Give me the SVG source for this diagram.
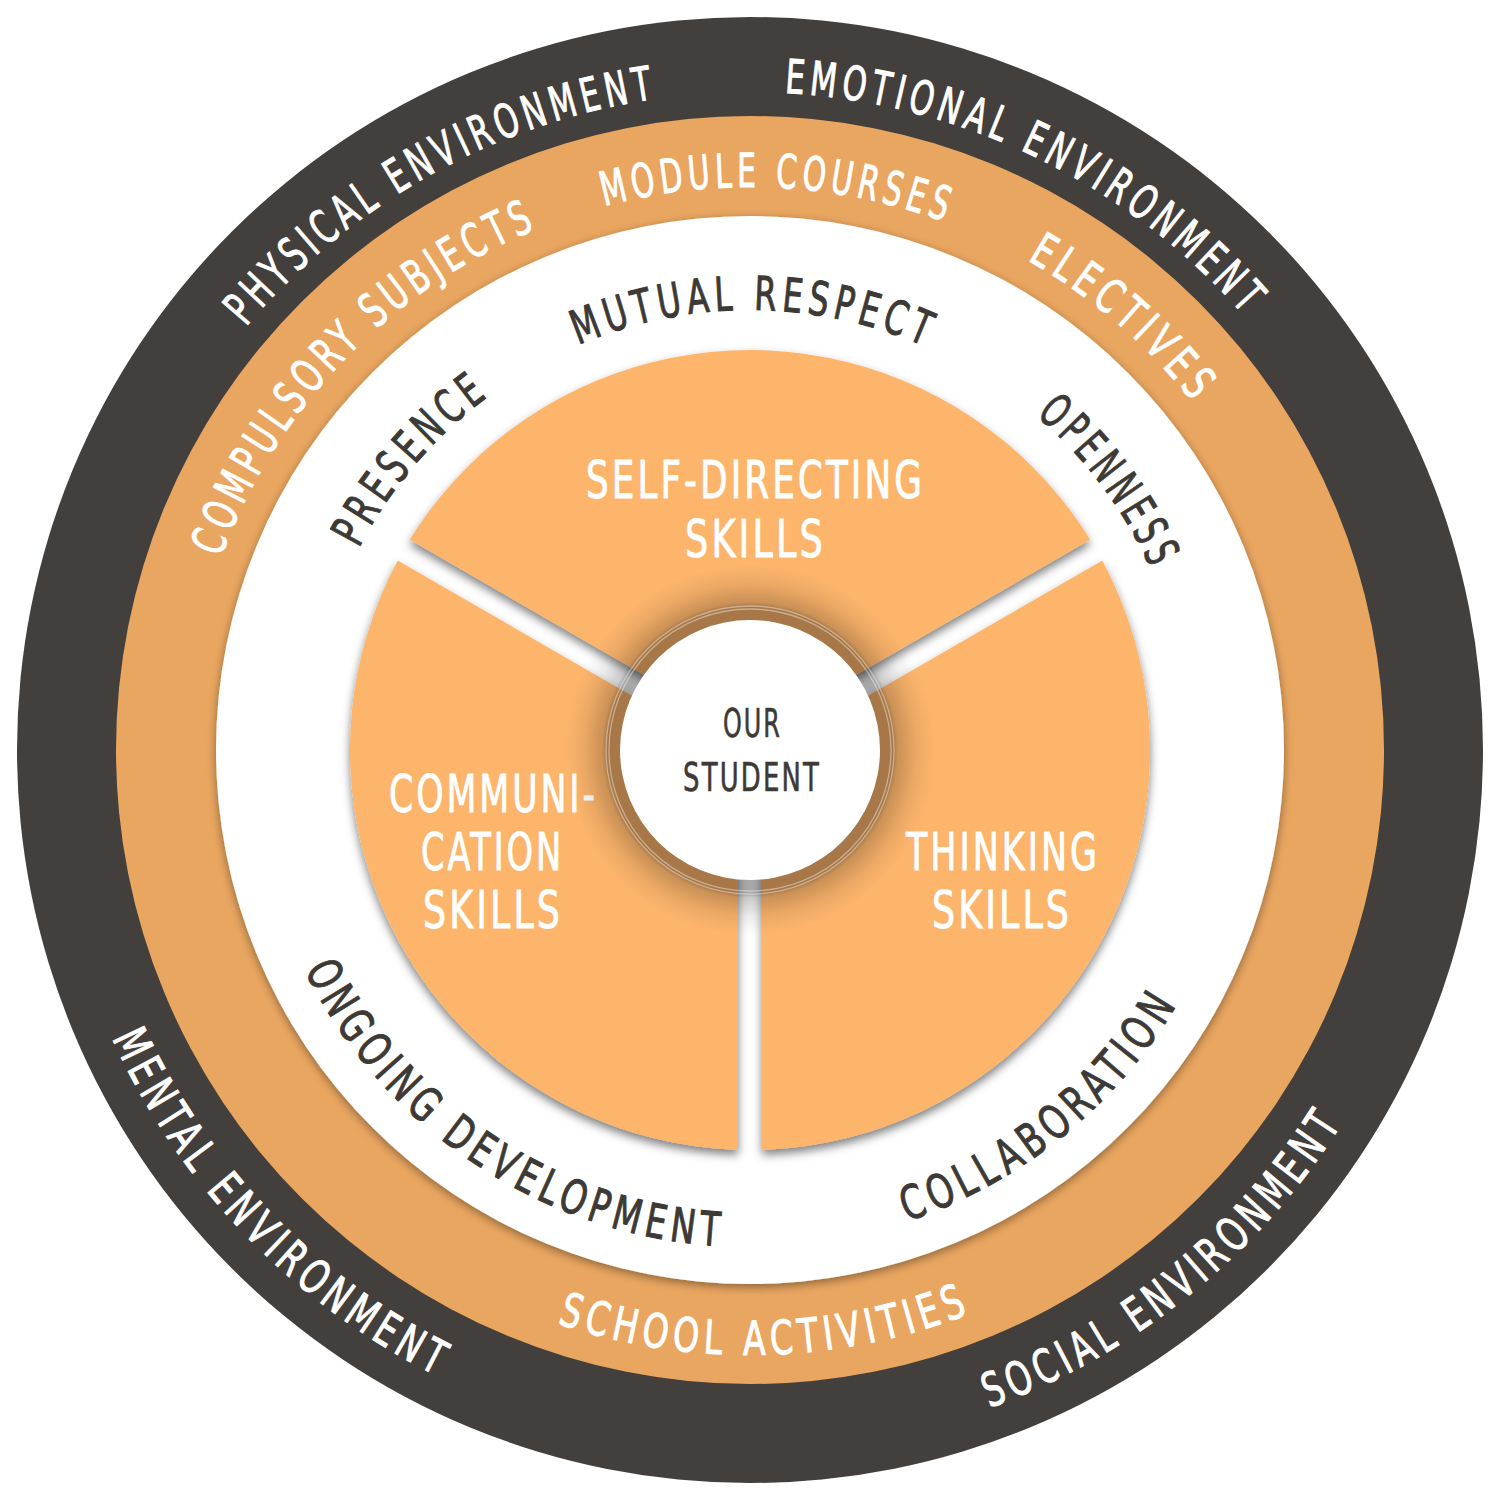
<svg xmlns="http://www.w3.org/2000/svg" width="1500" height="1500" viewBox="0 0 1500 1500">
  <style>
    text { font-family: "Liberation Sans Narrow", "DejaVu Sans Condensed", "Liberation Sans", sans-serif; font-weight: normal; }
    .ring { font-size: 47px; fill: #ffffff; stroke: #ffffff; stroke-width: 1; letter-spacing: 7px; }
    .inner { font-size: 47px; fill: #3d3935; stroke: #3d3935; stroke-width: 1; letter-spacing: 7px; }
    .sector { font-size: 52px; fill: #ffffff; stroke: #ffffff; stroke-width: 0.9; text-anchor: middle; letter-spacing: 4px; }
    .center { font-size: 39px; fill: #3d3935; stroke: #3d3935; stroke-width: 0.6; text-anchor: middle; letter-spacing: 3px; }
  </style>
  <defs>
    <filter id="shadowSoft" x="-10%" y="-10%" width="120%" height="120%">
      <feDropShadow dx="0" dy="3" stdDeviation="5" flood-color="#000000" flood-opacity="0.4"/>
    </filter>
    <filter id="shadowSector" x="-10%" y="-10%" width="120%" height="120%">
      <feDropShadow dx="0" dy="5" stdDeviation="5" flood-color="#000000" flood-opacity="0.5"/>
    </filter>
    <radialGradient id="centerShade" cx="750" cy="750" r="185" gradientUnits="userSpaceOnUse">
      <stop offset="0" stop-color="#000" stop-opacity="0.34"/>
      <stop offset="0.775" stop-color="#000" stop-opacity="0.34"/>
      <stop offset="0.8" stop-color="#000" stop-opacity="0.2"/>
      <stop offset="0.9" stop-color="#000" stop-opacity="0.07"/>
      <stop offset="1" stop-color="#000" stop-opacity="0"/>
    </radialGradient>
    <mask id="barMask" maskUnits="userSpaceOnUse" x="0" y="0" width="1500" height="1500">
      <rect x="0" y="0" width="1500" height="1500" fill="#fff"/>
      <g transform="translate(750 750)" fill="#000">
        <rect x="-12" y="0" width="24" height="440"/>
        <rect x="-12" y="0" width="24" height="440" transform="rotate(120)"/>
        <rect x="-12" y="0" width="24" height="440" transform="rotate(240)"/>
      </g>
    </mask>
    <path id="p1" d="M245.95,327.04 A658,658 0 0 1 658.42,98.40"/>
    <path id="p2" d="M784.44,92.90 A658,658 0 0 1 1246.60,318.31"/>
    <path id="p3" d="M604.28,206.18 A563,563 0 0 1 948.09,223.00"/>
    <path id="p4" d="M220.95,557.44 A563,563 0 0 1 539.10,228.00"/>
    <path id="p5" d="M1027.23,259.99 A563,563 0 0 1 1195.46,405.71"/>
    <path id="p6" d="M578.08,344.98 A440,440 0 0 1 928.97,348.04"/>
    <path id="p7" d="M359.00,548.19 A440,440 0 0 1 491.37,394.03"/>
    <path id="p8" d="M1035.76,415.42 A440,440 0 0 1 1152.58,572.44"/>
    <path id="p9" d="M112.02,1038.06 A700,700 0 0 0 440.94,1378.08"/>
    <path id="p10" d="M989.41,1407.78 A700,700 0 0 0 1344.27,1119.91"/>
    <path id="p11" d="M557.03,1323.40 A605,605 0 0 0 973.70,1312.12"/>
    <path id="p12" d="M304.44,970.21 A497,497 0 0 0 724.86,1246.36"/>
    <path id="p13" d="M906.88,1221.59 A497,497 0 0 0 1179.11,1000.75"/>
  </defs>

  <g id="ring-environment">
    <circle cx="750" cy="750" r="733" fill="#433f3c"/>
    <text class="ring"><textPath href="#p1" textLength="482" lengthAdjust="spacingAndGlyphs">PHYSICAL ENVIRONMENT</textPath></text>
    <text class="ring"><textPath href="#p2" textLength="528" lengthAdjust="spacingAndGlyphs">EMOTIONAL ENVIRONMENT</textPath></text>
    <text class="ring"><textPath href="#p9" textLength="482" lengthAdjust="spacingAndGlyphs">MENTAL ENVIRONMENT</textPath></text>
    <text class="ring"><textPath href="#p10" textLength="465" lengthAdjust="spacingAndGlyphs">SOCIAL ENVIRONMENT</textPath></text>
  </g>

  <g id="ring-curriculum">
    <circle cx="750" cy="750" r="634" fill="#e9a660"/>
    <text class="ring"><textPath href="#p3" textLength="350" lengthAdjust="spacingAndGlyphs">MODULE COURSES</textPath></text>
    <text class="ring"><textPath href="#p4" textLength="472" lengthAdjust="spacingAndGlyphs">COMPULSORY SUBJECTS</textPath></text>
    <text class="ring"><textPath href="#p5" textLength="224" lengthAdjust="spacingAndGlyphs">ELECTIVES</textPath></text>
    <text class="ring"><textPath href="#p11" textLength="425" lengthAdjust="spacingAndGlyphs">SCHOOL ACTIVITIES</textPath></text>
  </g>

  <g id="ring-values">
    <circle cx="750" cy="750" r="534" fill="#ffffff" filter="url(#shadowSoft)"/>
    <text class="inner"><textPath href="#p6" textLength="361" lengthAdjust="spacingAndGlyphs">MUTUAL RESPECT</textPath></text>
    <text class="inner"><textPath href="#p7" textLength="205" lengthAdjust="spacingAndGlyphs">PRESENCE</textPath></text>
    <text class="inner"><textPath href="#p8" textLength="197" lengthAdjust="spacingAndGlyphs">OPENNESS</textPath></text>
    <text class="inner"><textPath href="#p12" textLength="527" lengthAdjust="spacingAndGlyphs">ONGOING DEVELOPMENT</textPath></text>
    <text class="inner"><textPath href="#p13" textLength="358" lengthAdjust="spacingAndGlyphs">COLLABORATION</textPath></text>
  </g>

  <g id="skills">
    <g filter="url(#shadowSector)">
      <g mask="url(#barMask)">
        <circle cx="750" cy="750" r="400" fill="#fdb56c"/>
      </g>
    </g>
    <g id="skill-self-directing">
      <text class="sector" x="755.5" y="498" textLength="339" lengthAdjust="spacingAndGlyphs">SELF-DIRECTING</text>
      <text class="sector" x="755.5" y="557" textLength="141" lengthAdjust="spacingAndGlyphs">SKILLS</text>
    </g>
    <g id="skill-communication">
      <text class="sector" x="493.5" y="812" textLength="209" lengthAdjust="spacingAndGlyphs">COMMUNI-</text>
      <text class="sector" x="492.5" y="870" textLength="143" lengthAdjust="spacingAndGlyphs">CATION</text>
      <text class="sector" x="493" y="928" textLength="140" lengthAdjust="spacingAndGlyphs">SKILLS</text>
    </g>
    <g id="skill-thinking">
      <text class="sector" x="1003" y="870" textLength="194" lengthAdjust="spacingAndGlyphs">THINKING</text>
      <text class="sector" x="1002" y="928" textLength="140" lengthAdjust="spacingAndGlyphs">SKILLS</text>
    </g>
  </g>

  <g id="our-student">
    <circle cx="750" cy="750" r="185" fill="url(#centerShade)"/>
    <circle cx="750" cy="750" r="144" fill="none" stroke="#ffffff" stroke-opacity="0.4" stroke-width="1.3"/>
    <circle cx="750" cy="750" r="141" fill="none" stroke="#ffffff" stroke-opacity="0.4" stroke-width="1.3"/>
    <circle cx="750" cy="750" r="130" fill="#ffffff"/>
    <text class="center" x="752.5" y="737" textLength="59" lengthAdjust="spacingAndGlyphs">OUR</text>
    <text class="center" x="752" y="791" textLength="138" lengthAdjust="spacingAndGlyphs">STUDENT</text>
  </g>
</svg>
